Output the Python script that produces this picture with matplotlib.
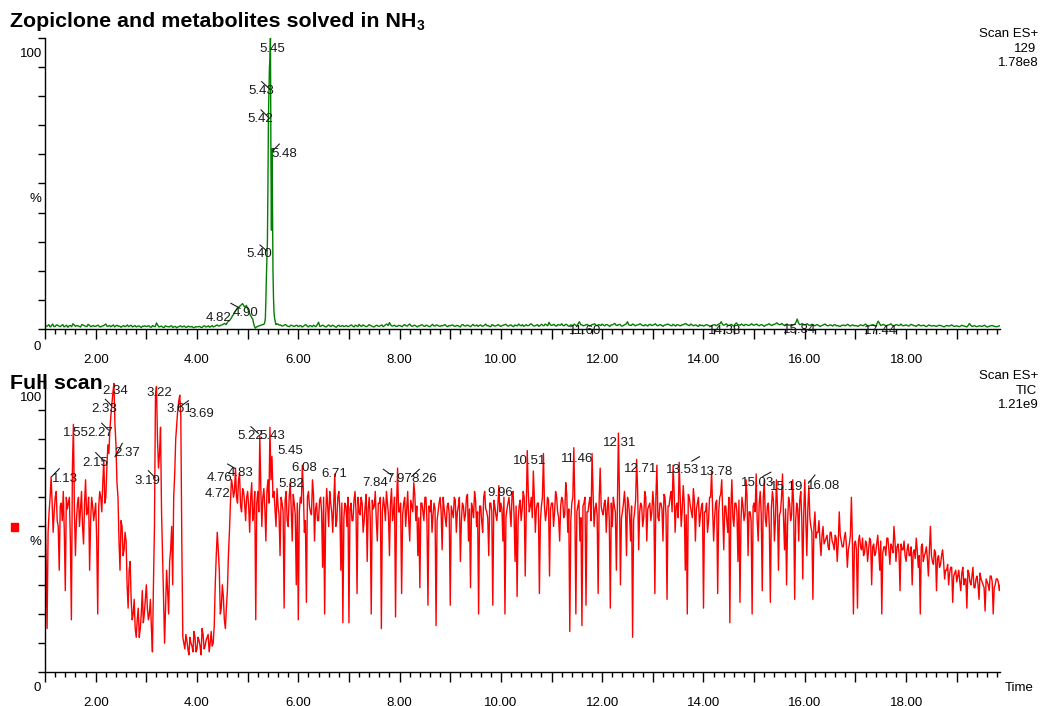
import numpy as np
import matplotlib
matplotlib.use('Agg')
import matplotlib.pyplot as plt
from matplotlib.ticker import MultipleLocator, FuncFormatter

plt.rcParams['font.family'] = ['Liberation Sans', 'DejaVu Sans']

# ---------------- data ----------------
# SIR 129 trace (% of 1.78e8): samples at 1.00, 1.05, ... (a) and 1.025, 1.075, ... (b)
sir_start, sir_step = 1.00, 0.025
sir_pct_a = [
    1.5, 1.2, 0.8, 1.8, 1.0, 1.4, 0.9, 1.6, 1.1, 0.7, 1.3, 1.9, 1.0, 1.2, 0.8, 1.5, 1.1, 1.7, 0.9, 1.3,
    1.0, 1.4, 0.8, 1.2, 1.8, 1.1, 0.9, 1.5, 1.2, 1.0, 0.7, 1.3, 1.1, 0.9, 1.4, 1.0, 0.8, 1.2, 0.6, 1.0,
    0.9, 1.2, 0.7, 1.0, 2.2, 0.8, 1.1, 0.6, 1.0, 0.8, 1.2, 0.9, 0.5, 1.0, 0.8, 1.1, 0.7, 0.9, 1.0, 0.6,
    0.8, 1.0, 0.6, 1.2, 0.9, 0.7, 1.3, 1.0, 1.5, 1.2, 1.6, 2.0, 2.4, 3.2, 4.6, 6.0, 7.2, 8.0, 8.8, 7.6,
    7.0, 5.0, 3.5, 0.4, 1.0, 1.3, 1.6, 2.0, 2.0, 2.0, 2.0, 2.0, 1.8, 1.5, 1.2, 1.6, 1.0, 1.4, 1.1, 1.3,
    0.9, 1.3, 1.0, 1.6, 0.8, 1.2, 1.4, 0.9, 2.4, 1.1, 1.3, 0.8, 1.5, 1.0, 1.2, 0.7, 1.4, 1.1, 0.9, 1.3,
    1.0, 1.5, 0.8, 1.2, 1.7, 1.0, 1.3, 0.9, 1.6, 1.1, 0.8, 1.4, 1.0, 1.5, 1.2, 1.8, 2.3, 1.1, 1.4, 1.0,
    1.3, 0.9, 1.6, 1.1, 1.8, 1.0, 1.4, 0.8, 1.2, 1.5, 1.0, 1.3, 0.9, 1.7, 1.1, 1.4, 1.0, 1.2, 1.6, 0.9,
    1.2, 1.5, 1.0, 1.3, 0.8, 1.6, 1.1, 1.4, 0.9, 1.7, 1.2, 1.0, 1.5, 1.1, 1.8, 1.3, 0.9, 1.4, 1.2, 1.6,
    1.0, 1.4, 1.7, 1.1, 1.5, 0.9, 1.3, 1.8, 1.2, 1.0, 1.6, 1.3, 1.9, 1.1, 1.4, 1.0, 1.7, 1.2, 1.5, 2.4,
    1.3, 1.7, 1.1, 1.5, 1.9, 1.2, 1.6, 1.0, 1.4, 1.8, 1.2, 2.6, 1.5, 1.3, 1.7, 1.1, 1.6, 1.9, 1.2, 1.5,
    1.8, 1.2, 1.6, 1.0, 1.5, 2.0, 1.3, 1.7, 1.1, 1.6, 2.6, 1.4, 1.8, 1.2, 1.5, 1.9, 1.3, 1.6, 1.1, 1.7,
    1.4, 1.9, 1.2, 1.6, 1.0, 1.5, 1.8, 1.3, 1.7, 1.1, 1.5, 1.2, 1.6, 2.0, 1.4, 1.8, 1.2, 1.5, 1.0, 1.3,
    1.1, 1.6, 1.3, 1.0, 1.5, 1.2, 1.8, 2.6, 1.4, 1.9, 1.3, 1.7, 1.1, 2.2, 1.5, 1.8, 1.2, 1.6, 1.3, 1.9,
    1.4, 1.8, 1.2, 1.6, 1.0, 1.5, 1.9, 1.3, 1.7, 2.2, 1.6, 2.0, 1.4, 1.8, 1.5, 1.2, 1.7, 3.5, 1.6, 2.0,
    1.5, 1.9, 1.3, 1.7, 1.2, 1.6, 1.0, 1.4, 1.8, 1.2, 1.5, 1.1, 1.6, 1.3, 1.0, 1.4, 1.2, 1.7, 1.1, 1.5,
    1.3, 1.0, 1.5, 1.2, 1.8, 1.1, 1.4, 1.6, 1.0, 2.8, 1.3, 1.7, 1.2, 1.5, 1.9, 1.1, 1.6, 1.3, 1.8, 1.2,
    1.5, 1.1, 1.7, 1.3, 1.0, 1.6, 1.2, 1.4, 0.9, 1.5, 1.1, 1.3, 1.0, 1.4, 1.2, 0.8, 1.3, 1.1, 1.5, 1.0,
    1.2, 0.9, 1.4, 1.1, 0.8, 2.0, 1.0, 1.3, 0.9, 1.2, 1.0, 1.4, 0.8, 1.1, 1.3, 1.0, 0.9, 1.2, 1.0,
]
sir_pct_b = [
    1.0, 1.6, 1.2, 0.9, 1.5, 1.1, 1.3, 0.8, 1.4, 1.2, 0.9, 1.5, 1.3, 1.0, 1.6, 1.2, 0.9, 1.4, 1.1, 1.0,
    1.3, 0.9, 1.1, 1.5, 1.0, 1.3, 1.2, 0.8, 1.4, 1.1, 1.0, 0.9, 1.5, 1.2, 0.8, 1.3, 1.0, 0.9, 1.1, 1.2,
    1.1, 0.8, 1.3, 0.9, 1.4, 1.0, 0.7, 1.2, 0.9, 1.1, 0.6, 1.0, 0.8, 1.2, 0.9, 0.7, 1.1, 0.8, 0.6, 0.9,
    0.9, 0.7, 1.1, 0.8, 1.2, 1.0, 0.8, 1.3, 1.1, 1.4, 1.8, 1.6, 2.8, 3.8, 5.2, 6.6, 7.6, 8.4, 8.0, 8.2,
    6.0, 4.2, 1.5, 0.8, 1.2, 1.5, 1.8, 2.0, 2.0, 2.0, 2.0, 1.7, 1.4, 1.1, 1.5, 1.2, 0.9, 1.3, 1.0, 1.4,
    1.2, 0.8, 1.4, 1.1, 1.3, 0.9, 1.1, 1.6, 1.0, 1.4, 0.9, 1.2, 1.1, 1.4, 0.9, 1.2, 1.0, 1.3, 1.1, 0.9,
    1.3, 1.1, 1.4, 0.9, 1.2, 1.5, 1.0, 1.2, 1.3, 0.9, 1.2, 1.1, 1.3, 0.9, 1.6, 1.3, 1.5, 1.2, 1.0, 1.3,
    1.1, 1.4, 1.2, 1.5, 1.2, 1.3, 1.1, 1.2, 1.5, 1.1, 1.4, 1.0, 1.3, 1.2, 1.5, 1.1, 1.3, 1.4, 1.1, 1.3,
    1.4, 1.1, 1.3, 1.0, 1.5, 1.2, 1.4, 1.1, 1.3, 1.2, 1.5, 1.3, 1.1, 1.4, 1.2, 1.0, 1.6, 1.1, 1.4, 1.2,
    1.3, 1.6, 1.2, 1.4, 1.1, 1.5, 1.2, 1.4, 1.6, 1.3, 1.2, 1.7, 1.4, 1.2, 1.6, 1.3, 1.4, 1.8, 1.2, 1.6,
    1.5, 1.2, 1.6, 1.4, 1.3, 1.7, 1.2, 1.5, 1.3, 1.4, 1.9, 1.6, 1.2, 1.5, 1.4, 1.3, 1.7, 1.4, 1.6, 1.3,
    1.4, 1.6, 1.3, 1.5, 1.8, 1.4, 1.6, 1.2, 1.4, 1.9, 1.5, 1.3, 1.6, 1.4, 1.7, 1.5, 1.2, 1.4, 1.6, 1.3,
    1.6, 1.4, 1.5, 1.3, 1.4, 1.7, 1.5, 1.2, 1.4, 1.6, 1.3, 1.5, 1.8, 1.6, 1.3, 1.5, 1.4, 1.2, 1.6, 1.4,
    1.3, 1.5, 1.1, 1.4, 1.6, 1.5, 1.9, 1.7, 1.6, 1.4, 1.5, 1.3, 1.8, 1.6, 1.4, 1.5, 1.7, 1.4, 1.6, 1.5,
    1.6, 1.4, 1.5, 1.3, 1.4, 1.7, 1.5, 1.6, 1.9, 1.8, 1.7, 1.5, 1.6, 1.4, 1.3, 1.5, 2.4, 2.2, 1.7, 1.6,
    1.7, 1.5, 1.6, 1.4, 1.5, 1.3, 1.2, 1.6, 1.4, 1.3, 1.4, 1.5, 1.2, 1.1, 1.3, 1.4, 1.5, 1.3, 1.4, 1.2,
    1.2, 1.3, 1.4, 1.5, 1.3, 1.2, 1.5, 1.3, 1.9, 2.0, 1.5, 1.4, 1.3, 1.6, 1.4, 1.3, 1.5, 1.4, 1.3, 1.4,
    1.3, 1.4, 1.5, 1.2, 1.4, 1.3, 1.3, 1.1, 1.2, 1.3, 1.2, 1.1, 1.2, 1.3, 1.0, 1.1, 1.2, 1.3, 1.2, 1.1,
    1.0, 1.1, 1.2, 1.0, 1.3, 1.4, 1.1, 1.0, 1.1, 1.1, 1.2, 1.0, 0.9, 1.2, 1.1, 0.9, 1.1, 1.0,
]
# main zopiclone peak, sampled every 0.01 min from 5.33 min
peak_start, peak_step = 5.33, 0.01
peak_pct = [2.0, 2.5, 4, 10, 18, 24, 30, 48, 72, 81, 90, 92, 100, 58, 34, 62, 44, 20, 11, 6, 4, 3, 2.2, 1.6, 1.8]

# TIC trace (% of 1.21e9): samples at 1.00, 1.04, ... (a) and 1.02, 1.06, ... (b)
tic_start, tic_step = 1.00, 0.02
tic_pct_a = [
    57, 15, 55, 67, 48, 60, 52, 35, 58, 62, 28, 56, 60, 18, 85, 40, 58, 50, 62, 44, 66, 55, 35, 60, 52,
    58, 20, 62, 55, 73, 60, 78, 83, 92, 99, 78, 60, 35, 50, 42, 45, 22, 38, 18, 25, 12, 22, 15, 28, 20,
    30, 18, 25, 7, 50, 98, 70, 84, 40, 10, 35, 20, 42, 30, 68, 85, 93, 88, 12, 8, 11, 6, 10, 7, 12,
    8, 11, 6, 13, 9, 12, 7, 14, 10, 30, 48, 35, 22, 26, 15, 28, 48, 66, 60, 70, 58, 68, 55, 62, 52,
    62, 48, 65, 55, 18, 62, 81, 50, 63, 45, 66, 84, 74, 62, 50, 57, 40, 58, 22, 62, 50, 65, 45, 58, 30,
    18, 60, 71, 48, 24, 62, 55, 66, 45, 58, 52, 60, 36, 20, 63, 50, 58, 48, 68, 52, 62, 35, 17, 58, 50,
    17, 58, 52, 62, 27, 55, 60, 48, 57, 38, 60, 20, 56, 62, 45, 58, 15, 60, 52, 58, 40, 63, 55, 19, 70,
    55, 27, 58, 50, 62, 45, 57, 65, 52, 40, 29, 58, 52, 60, 23, 55, 48, 58, 16, 55, 60, 42, 56, 50, 58,
    23, 55, 60, 48, 57, 38, 58, 52, 60, 45, 29, 56, 62, 50, 20, 57, 48, 62, 55, 40, 58, 23, 57, 52, 64,
    58, 45, 20, 56, 60, 50, 62, 38, 26, 57, 52, 62, 33, 76, 55, 60, 69, 48, 58, 27, 57, 75, 52, 60, 33,
    58, 50, 62, 55, 45, 60, 53, 65, 48, 14, 58, 77, 20, 57, 45, 16, 58, 23, 55, 60, 75, 50, 58, 27, 70,
    55, 58, 48, 60, 22, 50, 57, 35, 82, 30, 55, 62, 40, 58, 45, 12, 55, 73, 42, 58, 50, 62, 45, 57, 52,
    62, 27, 71, 52, 58, 45, 60, 25, 57, 62, 71, 48, 58, 72, 50, 64, 35, 20, 60, 55, 63, 45, 58, 50, 57,
    22, 55, 48, 60, 69, 45, 58, 27, 60, 66, 42, 57, 48, 17, 66, 50, 58, 38, 24, 60, 52, 66, 40, 55, 20,
    58, 68, 45, 62, 28, 66, 50, 58, 24, 62, 45, 66, 35, 55, 68, 42, 30, 60, 52, 66, 25, 58, 45, 62, 32,
    66, 40, 64, 50, 25, 55, 48, 52, 40, 50, 45, 47, 42, 48, 44, 47, 38, 55, 45, 43, 48, 36, 44, 60, 20,
    45, 22, 47, 42, 40, 45, 38, 46, 30, 44, 41, 47, 35, 20, 43, 40, 46, 37, 43, 50, 38, 44, 28, 42, 45,
    38, 44, 40, 30, 42, 46, 36, 20, 44, 40, 43, 33, 50, 38, 42, 28, 40, 37, 42, 32, 35, 30, 36, 24, 34,
    31, 35, 28, 36, 32, 22, 34, 30, 36, 29, 33, 25, 32, 30, 21, 31, 28, 33, 20, 30, 32, 28, 31,
]
tic_pct_b = [
    40, 48, 60, 58, 55, 62, 50, 57, 52, 48, 60, 58, 45, 70, 55, 52, 60, 56, 50, 58, 54, 60, 52, 57, 55,
    45, 57, 60, 65, 58, 70, 75, 88, 96, 85, 65, 45, 52, 40, 48, 30, 35, 25, 20, 15, 18, 12, 20, 17, 25,
    22, 20, 15, 30, 95, 80, 75, 55, 25, 22, 28, 38, 50, 60, 80, 90, 95, 45, 10, 13, 8, 12, 9, 14, 7,
    12, 9, 15, 8, 11, 13, 10, 9, 16, 40, 42, 20, 30, 18, 22, 40, 58, 64, 62, 60, 66, 57, 63, 58, 60,
    57, 60, 52, 62, 58, 55, 63, 60, 56, 62, 58, 66, 60, 56, 63, 54, 60, 55, 59, 52, 60, 56, 61, 54, 58,
    55, 58, 62, 52, 60, 57, 54, 61, 56, 52, 59, 55, 60, 53, 57, 62, 55, 58, 50, 60, 56, 58, 53, 57, 60,
    56, 52, 59, 55, 60, 54, 58, 52, 61, 56, 53, 59, 57, 52, 58, 60, 55, 57, 62, 54, 58, 52, 60, 57, 55,
    58, 54, 60, 56, 52, 59, 55, 61, 57, 53, 58, 55, 60, 52, 57, 59, 54, 56, 52, 58, 55, 60, 53, 57, 54,
    57, 53, 59, 55, 60, 52, 57, 54, 61, 56, 58, 53, 59, 55, 57, 52, 60, 56, 53, 58, 55, 59, 54, 57, 55,
    56, 60, 53, 58, 55, 61, 54, 57, 52, 59, 56, 60, 55, 62, 57, 53, 60, 56, 58, 52, 60, 57, 55, 59, 56,
    58, 55, 60, 53, 57, 59, 54, 61, 56, 52, 60, 57, 55, 59, 53, 57, 60, 55, 58, 52, 61, 56, 54, 59, 57,
    54, 59, 56, 52, 58, 60, 55, 57, 62, 53, 58, 56, 60, 54, 57, 52, 59, 62, 55, 57, 53, 60, 56, 58, 55,
    57, 60, 53, 58, 56, 61, 54, 57, 60, 55, 62, 57, 53, 60, 56, 58, 54, 61, 57, 53, 59, 56, 60, 54, 58,
    55, 58, 52, 60, 56, 53, 59, 55, 61, 54, 57, 52, 60, 56, 53, 58, 55, 59, 52, 57, 54, 60, 55, 52, 57,
    55, 52, 58, 54, 60, 53, 57, 50, 56, 59, 52, 57, 54, 60, 53, 56, 51, 58, 54, 57, 52, 56, 59, 53, 55,
    52, 56, 53, 48, 50, 46, 48, 45, 47, 44, 46, 43, 48, 45, 42, 46, 44, 47, 43, 46, 44, 42, 47, 45, 44,
    42, 45, 43, 46, 41, 44, 42, 45, 43, 40, 44, 42, 45, 41, 43, 46, 42, 44, 41, 45, 43, 41, 44, 42, 40,
    42, 40, 43, 41, 39, 42, 40, 43, 38, 41, 39, 42, 40, 37, 41, 39, 36, 40, 38, 35, 37, 34, 36, 33, 35,
    33, 31, 34, 30, 32, 35, 31, 33, 29, 32, 30, 34, 31, 29, 32, 30, 33, 31, 29, 32, 31, 30,
]

# peak labels: (text, retention time of label, % height of label)
sir_labels = [("5.45", 5.487, 96.1), ("5.43", 5.26, 81.7), ("5.42", 5.25, 72.0),
              ("5.48", 5.72, 60.0), ("5.40", 5.23, 25.7), ("4.82", 4.42, 4.0),
              ("4.90", 4.95, 5.7), ("11.60", 11.66, -0.6), ("14.38", 14.42, -0.7),
              ("15.84", 15.89, -0.2), ("17.44", 17.49, -0.5)]
sir_marks = [(5.277, 84.9, 5.44, 82.3), (5.264, 75.2, 5.41, 72.7), (5.495, 61.2, 5.625, 63.5),
             (5.244, 28.9, 5.376, 26.9), (4.67, 8.9, 4.85, 7.2)]

tic_labels = [("2.34", 2.38, 96.5), ("3.22", 3.256, 95.6), ("2.33", 2.17, 90.2),
              ("3.61", 3.645, 90.2), ("3.69", 4.09, 88.4), ("1.55", 1.615, 81.9),
              ("2.27", 2.095, 81.9), ("2.15", 1.986, 71.6), ("2.37", 2.63, 75.1),
              ("1.13", 1.39, 66.3), ("3.19", 3.03, 65.6), ("5.22", 5.05, 81.0),
              ("5.43", 5.48, 81.0), ("5.45", 5.85, 76.0), ("6.08", 6.11, 69.9),
              ("6.71", 6.72, 67.9), ("4.76", 4.44, 66.5), ("4.83", 4.86, 68.2),
              ("4.72", 4.40, 61.0), ("5.82", 5.86, 64.4), ("7.84", 7.52, 64.8),
              ("7.97", 8.00, 66.3), ("8.26", 8.49, 66.2), ("9.96", 9.98, 61.4),
              ("10.51", 10.57, 72.6), ("11.46", 11.51, 73.1), ("12.31", 12.35, 78.5),
              ("12.71", 12.75, 69.7), ("13.53", 13.58, 69.4), ("13.78", 14.25, 68.8),
              ("15.03", 15.06, 64.8), ("15.19", 15.65, 63.6), ("16.08", 16.38, 64.0)]
tic_marks = [(2.19, 93.6, 2.32, 91.3), (3.664, 91.0, 3.83, 93.1), (2.118, 85.4, 2.25, 83.1),
             (2.0, 75.3, 2.13, 73.0), (2.381, 73.9, 2.525, 78.5), (1.131, 67.1, 1.281, 69.8),
             (3.04, 69.1, 3.17, 66.8), (5.066, 84.2, 5.21, 81.9), (4.606, 71.4, 4.75, 69.9),
             (7.68, 69.6, 7.84, 67.6), (8.24, 67.1, 8.39, 69.6), (13.77, 72.4, 13.92, 73.9),
             (15.17, 67.1, 15.33, 68.6), (16.07, 64.8, 16.2, 67.6)]


def interleave(a, b):
    v = np.empty(len(a) + len(b), dtype=float)
    v[0::2] = a
    v[1::2] = b
    return v


# ---------------- figure ----------------
W, H = 1042, 706
fig = plt.figure(figsize=(W / 100, H / 100), dpi=100)


def fx(x):
    return x / W


def fy(y):
    return 1 - y / H


FS = 9.5
x_left, x_right = 45, 1000
t_min, t_max = 0.999, 19.854


def setup(ax):
    ax.set_xlim(t_min, t_max)
    ax.set_ylim(0, 100)
    for s in ('top', 'right'):
        ax.spines[s].set_visible(False)
    for s in ('left', 'bottom'):
        ax.spines[s].set_linewidth(1.0)
        ax.spines[s].set_color('black')
    ax.yaxis.set_major_locator(MultipleLocator(10))
    ax.tick_params(axis='y', direction='out', length=5, width=1, labelleft=False)
    ax.xaxis.set_major_locator(MultipleLocator(1))
    ax.xaxis.set_minor_locator(MultipleLocator(0.2))
    ax.xaxis.set_major_formatter(FuncFormatter(
        lambda v, p: f"{v:.2f}" if abs(v / 2 - round(v / 2)) < 1e-6 else ""))
    ax.tick_params(axis='x', which='major', direction='out', length=7, width=1,
                   pad=11, labelsize=FS)
    ax.tick_params(axis='x', which='minor', direction='out', length=3.5, width=1)
    ax.patch.set_visible(False)


# top panel
ax1 = fig.add_axes([fx(x_left), fy(329.3), (x_right - x_left) / W, (329.3 - 37.6) / H])
setup(ax1)
sir_v = interleave(sir_pct_a, sir_pct_b)
sir_t = sir_start + sir_step * np.arange(len(sir_v))
pk_v = np.array(peak_pct, dtype=float)
pk_t = peak_start + peak_step * np.arange(len(pk_v))
keep = ~((sir_t > pk_t[0] + 1e-9) & (sir_t < pk_t[-1] - 1e-9))
gt = np.concatenate([sir_t[keep], pk_t])
gv = np.concatenate([sir_v[keep], pk_v])
order = np.argsort(gt)
ax1.plot(gt[order], gv[order], color='#008000', lw=1.0)
for txt, t, p in sir_labels:
    ax1.text(t, p, txt, fontsize=FS, ha='center', va='center', color='#1a1a1a', clip_on=False)
for t0, p0, t1, p1 in sir_marks:
    ax1.plot([t0, t1], [p0, p1], color='#1a1a1a', lw=0.8, clip_on=False)

# bottom panel
ax2 = fig.add_axes([fx(x_left), fy(672.3), (x_right - x_left) / W, (672.3 - 380.6) / H])
setup(ax2)
tic_v = interleave(tic_pct_a, tic_pct_b)
tic_t = tic_start + tic_step * np.arange(len(tic_v))
ax2.plot(tic_t, tic_v, color='#ff0000', lw=1.0)
for txt, t, p in tic_labels:
    ax2.text(t, p, txt, fontsize=FS, ha='center', va='center', color='#1a1a1a', clip_on=False)
for t0, p0, t1, p1 in tic_marks:
    ax2.plot([t0, t1], [p0, p1], color='#1a1a1a', lw=0.8, clip_on=False)

# ---------------- texts ----------------
title1 = fig.text(fx(10), fy(26.7), "Zopiclone and metabolites solved in NH",
                  fontsize=15.4, fontweight='bold', ha='left', va='baseline')
fig.canvas.draw()
bb = title1.get_window_extent(fig.canvas.get_renderer())
fig.text(bb.x1 / W + 0.5 / W, fy(30.5), "3", fontsize=10, fontweight='bold', ha='left', va='baseline')
fig.text(fx(10), fy(389.3), "Full scan", fontsize=15.4, fontweight='bold', ha='left', va='baseline')

for ytop, ybot in ((54.3, 346.7), (397.7, 688.3)):
    fig.text(fx(42.7), fy(ytop), "100", fontsize=FS, ha='right', va='center')
    fig.text(fx(37), fy(ybot), "0", fontsize=FS, ha='center', va='center')
fig.text(fx(35), fy(198.7), "%", fontsize=FS, ha='center', va='center')
fig.text(fx(35), fy(541.7), "%", fontsize=FS, ha='center', va='center')

fig.text(fx(1038.5), fy(33.7), "Scan ES+", fontsize=FS, ha='right', va='center')
fig.text(fx(1036.7), fy(49.0), "129", fontsize=FS, ha='right', va='center')
fig.text(fx(1038.5), fy(63.3), "1.78e8", fontsize=FS, ha='right', va='center')
fig.text(fx(1038.5), fy(376.0), "Scan ES+", fontsize=FS, ha='right', va='center')
fig.text(fx(1036.7), fy(390.7), "TIC", fontsize=FS, ha='right', va='center')
fig.text(fx(1038.5), fy(405.0), "1.21e9", fontsize=FS, ha='right', va='center')
fig.text(fx(1019), fy(688.3), "Time", fontsize=FS, ha='center', va='center')

# legend marker square for the TIC trace
fig.patches.append(plt.Rectangle((fx(11), fy(530.7)), 7 / W, 7.4 / H,
                                 transform=fig.transFigure, color='#ff0000', figure=fig))

fig.savefig("out.png", dpi=100)
